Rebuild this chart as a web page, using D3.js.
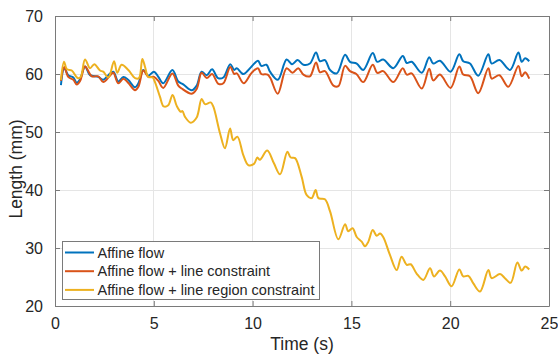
<!DOCTYPE html>
<html>
<head>
<meta charset="utf-8">
<script src="https://cdn.jsdelivr.net/npm/d3@7"></script>
<style>
  html, body { margin: 0; padding: 0; background: #fff; }
  svg { display: block; font-family: "Liberation Sans", Arial, sans-serif; }
</style>
</head>
<body>
<svg id="chart" width="558" height="354"></svg>
<script>
// values
const xTicks = [0, 5, 10, 15, 20, 25]
const yTicks = [20, 30, 40, 50, 60, 70]
const seriesNames = ['Affine flow', 'Affine flow + line constraint', 'Affine flow + line region constraint']

const affineT = [0.3, 0.47, 0.67, 0.93, 1.1, 1.27, 1.52, 1.77, 2.19, 2.44, 2.7, 2.95, 3.2, 3.46, 3.7, 4.05, 4.22, 4.47, 4.72, 5.01, 5.23, 5.48, 5.94, 6.24, 6.49, 6.92, 7.17, 7.42, 7.68, 7.95, 8.25, 8.52, 8.87, 9.07, 9.2, 9.53, 9.95, 10.27, 10.44, 10.7, 10.88, 11.28, 11.72, 12.0, 12.28, 12.57, 12.9, 13.21, 13.41, 13.66, 13.92, 14.26, 14.68, 14.93, 15.27, 15.6, 16.08, 16.31, 16.61, 17.12, 17.6, 17.8, 18.05, 18.56, 18.94, 19.14, 19.48, 20.02, 20.46, 20.66, 21.0, 21.42, 21.93, 22.1, 22.49, 23.03, 23.45, 23.62, 23.79, 24.0]
const affineY = [58.1, 61.0, 59.8, 59.4, 58.5, 59.1, 61.3, 59.8, 59.5, 59.0, 59.8, 60.4, 58.7, 59.5, 59.0, 57.7, 58.4, 60.7, 59.7, 60.4, 59.5, 58.4, 60.7, 58.7, 58.2, 57.2, 58.0, 60.4, 59.8, 60.8, 59.3, 59.4, 61.7, 60.7, 61.0, 60.0, 61.3, 62.3, 61.4, 61.6, 60.4, 59.0, 62.5, 61.7, 62.4, 61.6, 61.8, 63.7, 62.2, 62.4, 60.7, 60.1, 63.3, 62.1, 61.8, 60.7, 63.6, 62.1, 62.5, 61.0, 63.1, 61.9, 62.1, 60.2, 62.9, 61.8, 62.3, 60.4, 63.4, 62.2, 61.8, 59.7, 63.4, 61.8, 62.4, 60.7, 63.7, 62.1, 62.7, 62.2]

const lineT = [0.3, 0.47, 0.67, 0.93, 1.1, 1.27, 1.52, 1.86, 2.19, 2.44, 2.78, 2.95, 3.2, 3.46, 3.7, 4.05, 4.22, 4.47, 4.72, 5.01, 5.23, 5.48, 5.94, 6.24, 6.41, 6.92, 7.17, 7.42, 7.68, 7.95, 8.27, 8.52, 8.87, 9.07, 9.2, 9.55, 9.95, 10.27, 10.44, 10.76, 10.9, 11.27, 11.72, 12.02, 12.31, 12.57, 12.9, 13.21, 13.41, 13.66, 14.09, 14.34, 14.68, 14.93, 15.25, 15.6, 16.08, 16.31, 16.61, 17.12, 17.6, 17.8, 18.05, 18.56, 18.94, 19.14, 19.48, 20.02, 20.46, 20.66, 21.0, 21.42, 21.93, 22.1, 22.49, 22.94, 23.45, 23.62, 23.79, 24.0]
const lineY = [58.8, 61.2, 59.5, 59.0, 58.2, 58.8, 61.3, 59.6, 59.6, 58.6, 59.7, 60.2, 58.4, 59.2, 58.5, 57.2, 57.8, 60.6, 59.5, 59.5, 58.8, 57.6, 60.1, 58.0, 57.5, 56.6, 57.4, 60.2, 59.3, 60.0, 58.3, 58.4, 61.2, 60.0, 60.1, 58.4, 60.2, 61.0, 60.0, 59.9, 59.3, 56.6, 61.0, 60.2, 61.0, 59.9, 59.6, 62.0, 60.3, 60.5, 58.0, 57.9, 61.4, 60.5, 60.0, 58.6, 61.6, 60.2, 60.5, 58.6, 61.0, 59.9, 60.1, 57.5, 60.9, 58.9, 59.9, 57.6, 61.3, 59.9, 59.6, 56.7, 61.0, 59.2, 59.8, 57.8, 61.4, 59.6, 60.3, 59.2]

const regionT = [0.3, 0.46, 0.6, 0.85, 1.15, 1.3, 1.52, 1.77, 1.99, 2.28, 2.44, 2.7, 2.99, 3.15, 3.37, 3.71, 4.05, 4.25, 4.42, 4.55, 4.72, 4.94, 5.06, 5.31, 5.5, 5.73, 5.95, 6.16, 6.36, 6.45, 6.58, 6.87, 7.17, 7.42, 7.59, 7.88, 8.01, 8.35, 8.6, 8.86, 9.02, 9.23, 9.53, 9.78, 10.07, 10.24, 10.37, 10.74, 11.08, 11.39, 11.76, 11.93, 12.15, 12.48, 12.74, 12.99, 13.19, 13.33, 13.66, 13.92, 14.34, 14.68, 14.84, 15.06, 15.27, 15.52, 15.69, 15.86, 16.08, 16.28, 16.45, 16.61, 16.95, 17.29, 17.54, 17.8, 18.0, 18.3, 18.64, 18.98, 19.18, 19.48, 19.74, 20.07, 20.46, 20.66, 20.92, 21.17, 21.51, 21.93, 22.1, 22.52, 22.77, 23.06, 23.4, 23.62, 23.79, 24.0]
const regionY = [59.0, 62.1, 60.8, 60.6, 59.3, 59.5, 62.5, 61.0, 61.7, 60.6, 60.4, 59.4, 62.2, 60.2, 61.6, 60.7, 59.3, 59.3, 62.6, 61.3, 59.5, 59.4, 58.6, 56.1, 54.4, 54.6, 56.4, 54.5, 53.5, 53.6, 52.6, 51.6, 52.5, 55.7, 54.8, 55.1, 54.4, 49.8, 47.2, 50.6, 48.6, 49.2, 46.0, 44.3, 44.5, 45.6, 45.2, 46.8, 44.6, 42.7, 46.6, 45.6, 45.5, 42.3, 39.1, 38.6, 40.0, 38.6, 38.4, 36.3, 31.5, 34.1, 32.9, 33.4, 31.9, 31.1, 30.3, 31.1, 33.1, 32.1, 32.5, 31.9, 28.8, 26.2, 28.5, 27.1, 27.2, 25.6, 24.5, 26.5, 25.1, 26.1, 25.1, 23.4, 26.3, 25.1, 25.2, 23.9, 22.5, 26.2, 24.8, 25.5, 24.8, 24.0, 27.5, 26.1, 26.8, 26.3]

const colors = ['#0072BD', '#D95319', '#EDB120']
const series = [
    { name: seriesNames[0], t: affineT, y: affineY, color: colors[0] },
    { name: seriesNames[1], t: lineT, y: lineY, color: colors[1] },
    { name: seriesNames[2], t: regionT, y: regionY, color: colors[2] },
]

const svg = d3.select('#chart')
const margin = { top: 16, right: 9, bottom: 48, left: 55 }
const width = 558, height = 354
const axisColor = '#7a7a7a'
const textColor = '#262626'

const x = d3.scaleLinear().domain([0, 25]).range([margin.left, width - margin.right])
const y = d3.scaleLinear().domain([20, 70]).range([height - margin.bottom, margin.top])

// grid
const grid = svg.append('g').attr('class', 'grid')
grid.selectAll('line.gx').data(xTicks).join('line')
    .attr('x1', d => x(d)).attr('x2', d => x(d))
    .attr('y1', y(20)).attr('y2', y(70))
    .attr('stroke', '#e5e5e5').attr('stroke-width', 1).attr('shape-rendering', 'crispEdges')
grid.selectAll('line.gy').data(yTicks).join('line')
    .attr('x1', x(0)).attr('x2', x(25))
    .attr('y1', d => y(d)).attr('y2', d => y(d))
    .attr('stroke', '#e5e5e5').attr('stroke-width', 1).attr('shape-rendering', 'crispEdges')

// lines
const line = d3.line().curve(d3.curveCatmullRom.alpha(0.5))
    .x(d => x(d[0])).y(d => y(d[1]))

svg.append('g').selectAll('path').data(series).join('path')
    .attr('fill', 'none')
    .attr('stroke', d => d.color)
    .attr('stroke-width', 2)
    .attr('stroke-linejoin', 'round')
    .attr('d', d => line(d.t.map((t, i) => [t, d.y[i]])))

// axes, ticks pointing inward on all four sides
const styleAxis = (g) => {
    g.select('.domain').attr('stroke', axisColor)
    g.selectAll('.tick line').attr('stroke', axisColor)
    g.selectAll('.tick text').attr('fill', textColor).attr('font-size', 16)
}
svg.append('g')
    .attr('transform', `translate(0,${ y(20) })`)
    .call(d3.axisBottom(x).tickValues(xTicks).tickSize(-5).tickSizeOuter(0).tickPadding(12))
    .call(styleAxis)
svg.append('g')
    .attr('transform', `translate(0,${ y(70) })`)
    .call(d3.axisTop(x).tickValues(xTicks).tickSize(-5).tickSizeOuter(0).tickFormat(() => ''))
    .call(styleAxis)
svg.append('g')
    .attr('transform', `translate(${ x(0) },0)`)
    .call(d3.axisLeft(y).tickValues(yTicks).tickSize(-5).tickSizeOuter(0).tickPadding(12))
    .call(styleAxis)
svg.append('g')
    .attr('transform', `translate(${ x(25) },0)`)
    .call(d3.axisRight(y).tickValues(yTicks).tickSize(-5).tickSizeOuter(0).tickFormat(() => ''))
    .call(styleAxis)
svg.selectAll('.domain').attr('stroke-width', 1)

// axis labels
svg.append('text')
    .attr('x', (x(0) + x(25)) / 2).attr('y', 350)
    .attr('text-anchor', 'middle').attr('fill', textColor).attr('font-size', 17.5)
    .text('Time (s)')
svg.append('text')
    .attr('transform', `translate(22,${ (y(20) + y(70)) / 2 + 8 }) rotate(-90)`)
    .attr('text-anchor', 'middle').attr('fill', textColor).attr('font-size', 17.5)
    .text('Length (mm)')

// legend
const legend = svg.append('g').attr('transform', 'translate(62,241)')
legend.append('rect')
    .attr('width', 257).attr('height', 58)
    .attr('fill', '#fff').attr('stroke', axisColor).attr('stroke-width', 1)
    .attr('shape-rendering', 'crispEdges')
const rows = legend.selectAll('g.row').data(series).join('g')
    .attr('transform', (d, i) => `translate(0,${ 11.5 + i * 18.7 })`)
rows.append('line')
    .attr('x1', 3).attr('x2', 32)
    .attr('stroke', d => d.color).attr('stroke-width', 2)
rows.append('text')
    .attr('x', 35.5).attr('y', 5.2)
    .attr('fill', textColor).attr('font-size', 14.5)
    .text(d => d.name)
</script>
</body>
</html>
